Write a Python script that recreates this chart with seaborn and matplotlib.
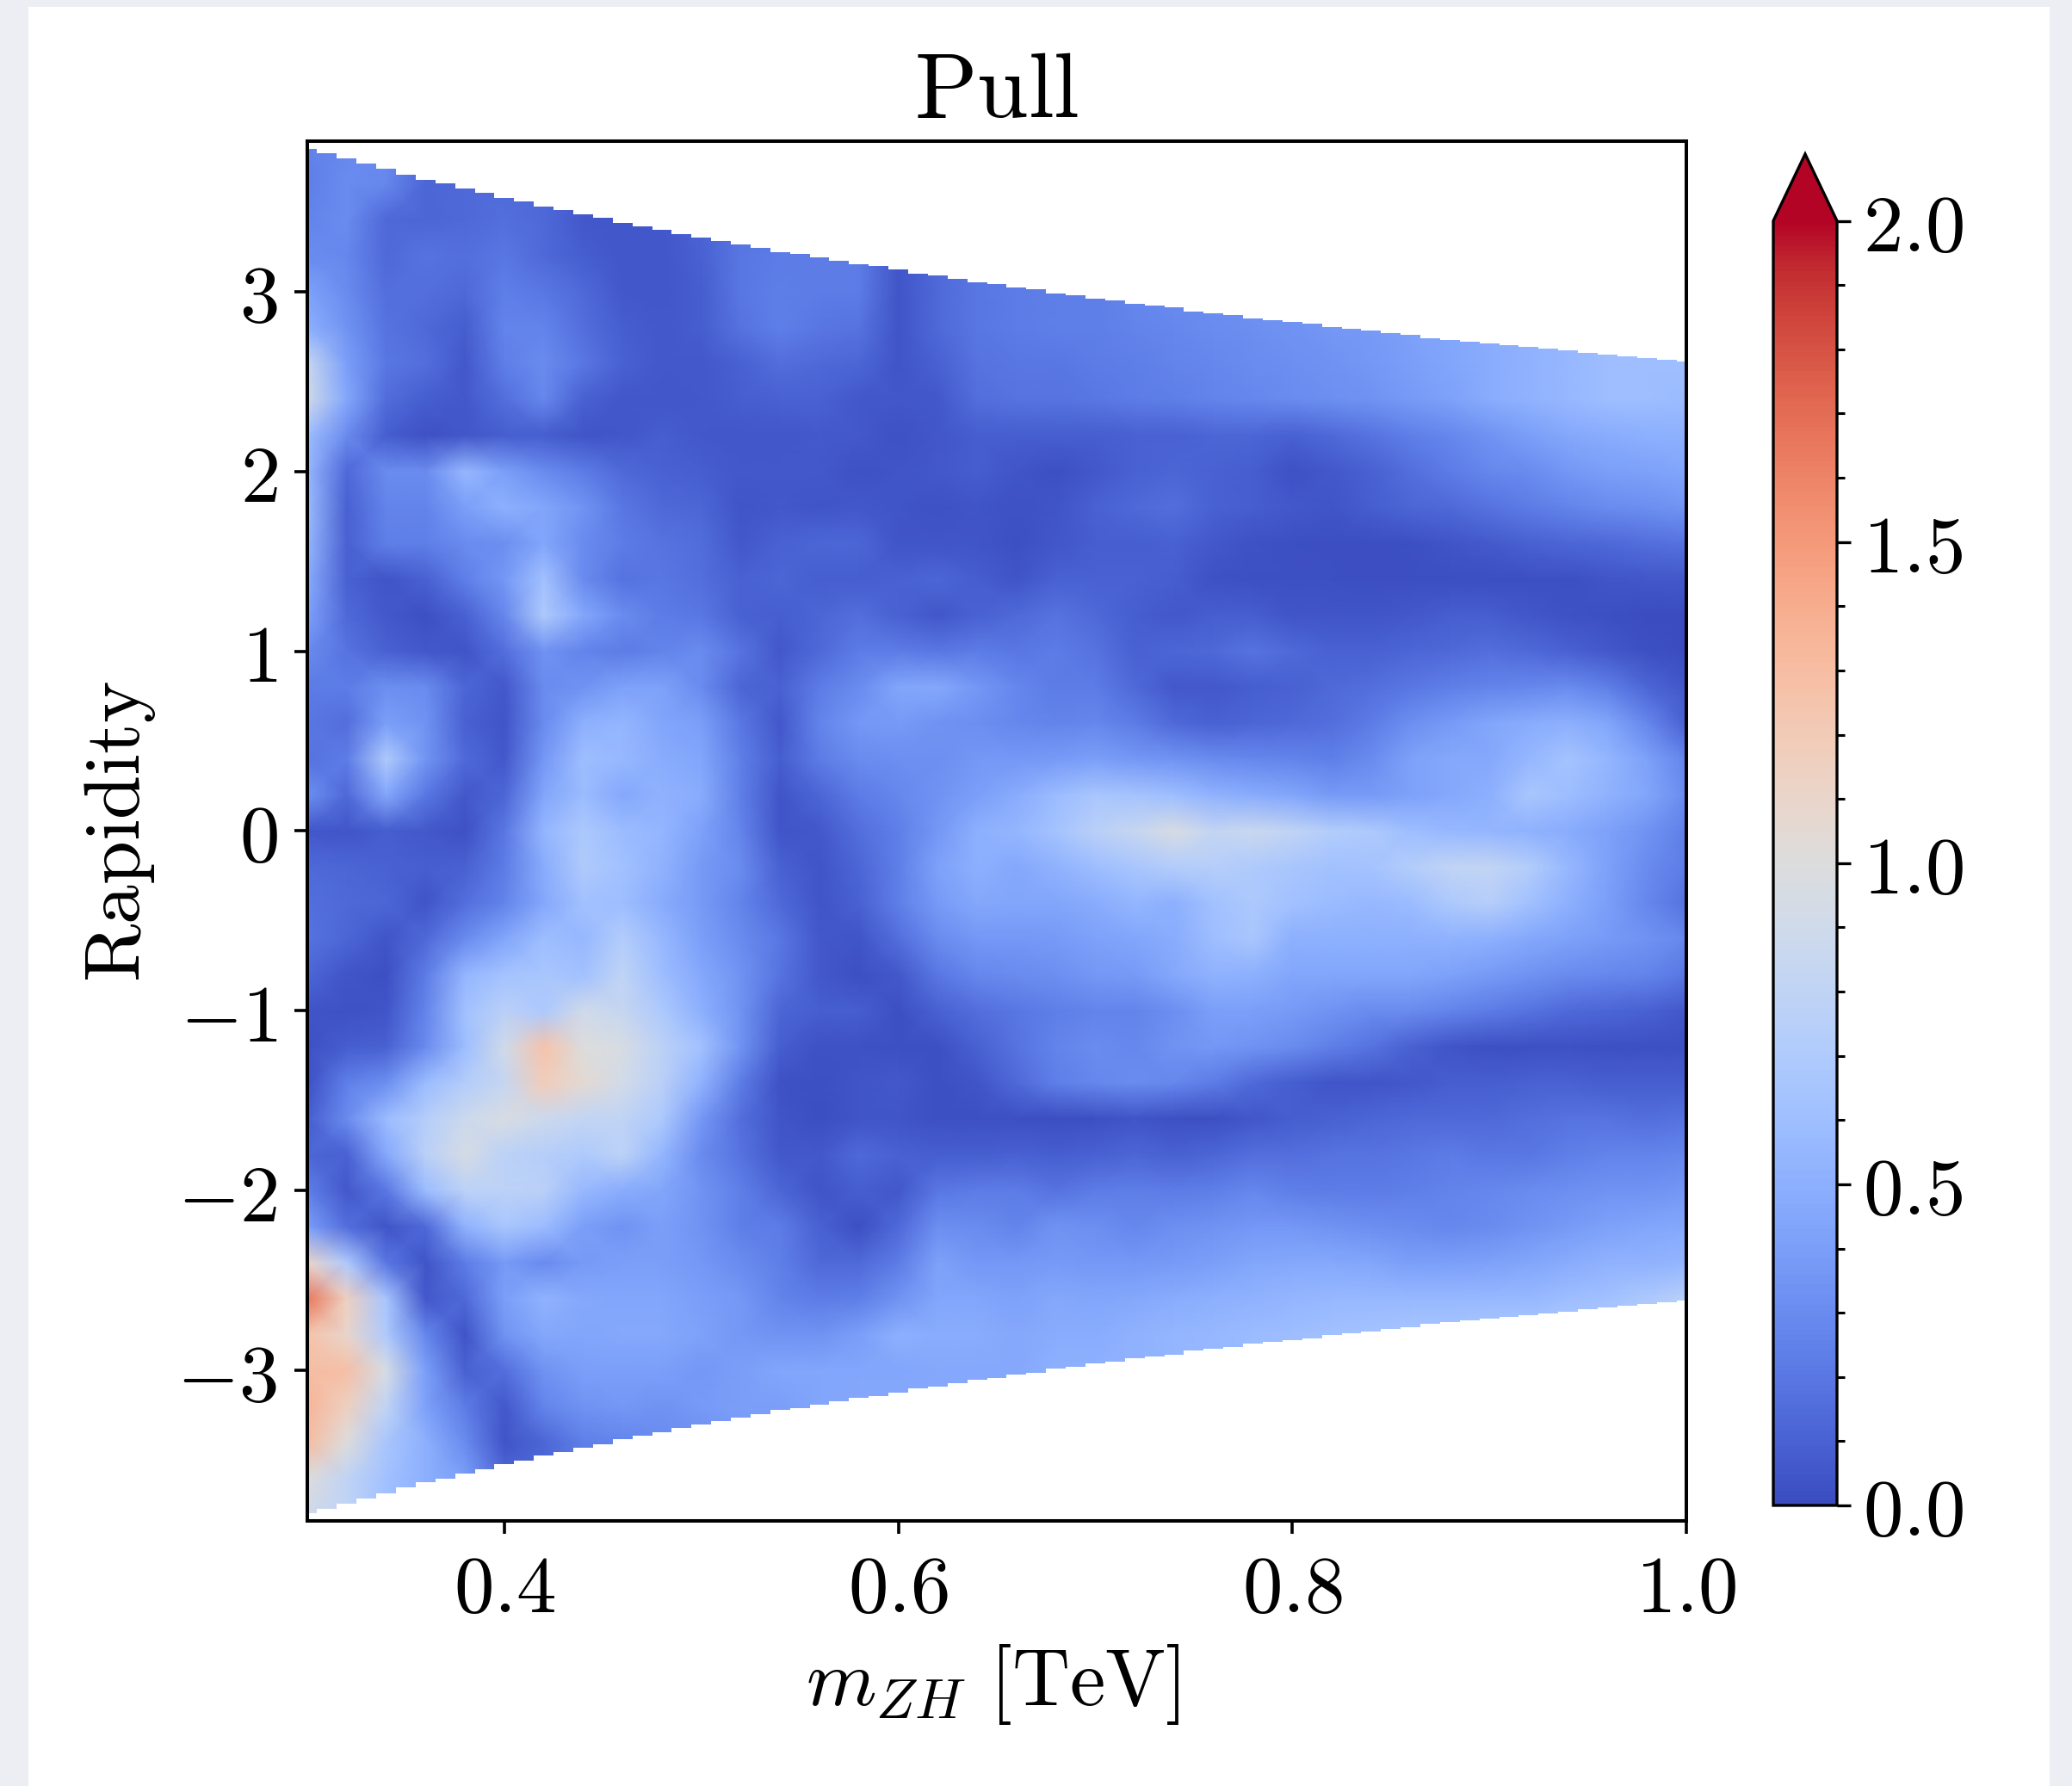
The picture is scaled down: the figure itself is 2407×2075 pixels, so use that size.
import numpy as np
import matplotlib
matplotlib.use("Agg")
import matplotlib.pyplot as plt
import seaborn as sns
from matplotlib.patches import Polygon, Rectangle
from matplotlib.ticker import MultipleLocator

# bin centres of the coarse grid
mass_bins = [0.30, 0.32, 0.34, 0.36, 0.38, 0.40, 0.42, 0.44, 0.46, 0.48, 0.50, 0.52,
             0.54, 0.56, 0.58, 0.60, 0.62, 0.64, 0.66, 0.68, 0.70, 0.72, 0.74, 0.76,
             0.78, 0.80, 0.82, 0.84, 0.86, 0.88, 0.90, 0.92, 0.94, 0.96, 0.98, 1.00]
rapidity_bins = [3.8, 3.6, 3.4, 3.2, 3.0, 2.8, 2.6, 2.4, 2.2, 2.0, 1.8, 1.6, 1.4, 1.2, 1.0,
                 0.8, 0.6, 0.4, 0.2, 0.0, -0.2, -0.4, -0.6, -0.8, -1.0, -1.2, -1.4, -1.6,
                 -1.8, -2.0, -2.2, -2.4, -2.6, -2.8, -3.0, -3.2, -3.4, -3.6, -3.8]

# pull x 100, one row per rapidity bin
pull_percent = [
    [25, 28, 30, 14, 14, 14, 12, 10, 10, 10, 10, 14, 20, 20, 20, 10, 10, 22, 25, 25, 28, 30, 30, 32, 35, 38, 40, 45, 48, 50, 52, 54, 55, 58, 58, 58],
    [24, 30, 28, 12, 14, 14, 12, 8, 8, 8, 10, 16, 20, 20, 20, 8, 8, 22, 25, 25, 28, 30, 32, 34, 38, 40, 42, 46, 48, 50, 52, 54, 55, 58, 58, 58],
    [26, 30, 14, 12, 14, 16, 14, 6, 5, 6, 12, 18, 22, 22, 20, 6, 6, 20, 24, 26, 28, 30, 32, 34, 36, 38, 40, 44, 46, 50, 52, 54, 56, 58, 58, 58],
    [30, 28, 14, 18, 16, 20, 14, 8, 5, 5, 10, 20, 22, 22, 22, 5, 14, 20, 22, 24, 26, 30, 32, 34, 36, 38, 40, 44, 46, 50, 52, 54, 56, 58, 58, 58],
    [42, 30, 16, 16, 14, 24, 20, 14, 6, 5, 8, 20, 24, 22, 22, 4, 14, 20, 22, 24, 24, 28, 30, 32, 34, 36, 38, 42, 44, 48, 50, 54, 56, 56, 56, 56],
    [50, 34, 18, 14, 8, 26, 26, 16, 8, 6, 8, 18, 24, 20, 18, 4, 14, 20, 22, 24, 24, 26, 28, 30, 32, 34, 36, 38, 42, 44, 48, 52, 56, 58, 60, 60],
    [85, 40, 20, 16, 6, 24, 30, 20, 10, 6, 6, 10, 16, 14, 12, 4, 10, 18, 20, 20, 22, 24, 26, 28, 30, 32, 34, 36, 40, 44, 48, 52, 56, 60, 60, 60],
    [90, 45, 15, 8, 6, 16, 28, 10, 5, 5, 6, 8, 10, 10, 6, 5, 6, 16, 18, 18, 20, 22, 24, 26, 28, 30, 32, 34, 38, 42, 48, 52, 56, 60, 60, 58],
    [60, 30, 8, 3, 5, 8, 8, 4, 5, 8, 6, 5, 5, 7, 6, 3, 5, 8, 8, 8, 8, 10, 10, 12, 12, 10, 14, 18, 24, 28, 34, 40, 46, 48, 50, 50],
    [55, 14, 30, 30, 55, 40, 30, 22, 14, 10, 8, 6, 6, 6, 3, 4, 6, 8, 4, 2, 6, 10, 12, 10, 8, 3, 6, 10, 16, 22, 28, 30, 36, 40, 42, 44],
    [58, 10, 26, 26, 40, 50, 44, 34, 20, 14, 12, 4, 6, 4, 6, 4, 3, 4, 3, 4, 10, 14, 16, 10, 8, 6, 4, 8, 12, 14, 18, 22, 26, 30, 32, 35],
    [55, 10, 24, 24, 30, 32, 44, 30, 22, 18, 15, 6, 10, 12, 12, 4, 4, 4, 2, 5, 8, 8, 10, 6, 3, 2, 1, 1, 2, 4, 7, 10, 12, 14, 16, 18],
    [48, 10, 4, 10, 24, 36, 62, 30, 18, 20, 16, 10, 12, 8, 8, 10, 12, 8, 4, 10, 10, 10, 8, 3, 2, 2, 2, 1, 1, 1, 1, 2, 2, 4, 5, 6],
    [42, 14, 6, 2, 10, 28, 70, 45, 30, 22, 20, 10, 8, 12, 16, 10, 5, 10, 14, 18, 14, 8, 6, 8, 8, 4, 4, 4, 6, 8, 8, 5, 3, 2, 0, 0],
    [30, 18, 10, 6, 4, 16, 34, 26, 22, 26, 30, 18, 6, 14, 22, 22, 20, 22, 20, 22, 18, 10, 12, 14, 18, 14, 10, 10, 12, 14, 16, 14, 10, 6, 2, 0],
    [22, 22, 32, 30, 12, 6, 30, 34, 42, 42, 30, 12, 10, 22, 30, 44, 46, 36, 28, 22, 22, 14, 6, 6, 8, 10, 14, 16, 20, 24, 26, 28, 30, 24, 12, 5],
    [20, 16, 40, 34, 10, 4, 30, 50, 54, 44, 40, 20, 6, 26, 36, 38, 34, 32, 28, 26, 28, 22, 14, 10, 12, 14, 16, 22, 32, 38, 44, 48, 50, 44, 28, 10],
    [18, 22, 70, 35, 14, 6, 36, 60, 56, 48, 44, 24, 8, 22, 30, 32, 32, 36, 36, 38, 40, 36, 34, 30, 28, 26, 24, 30, 42, 46, 46, 55, 64, 54, 42, 26],
    [32, 14, 45, 20, 6, 12, 44, 58, 46, 52, 48, 24, 4, 12, 22, 28, 34, 40, 48, 58, 66, 64, 60, 52, 48, 44, 38, 38, 42, 46, 50, 66, 60, 52, 44, 30],
    [6, 4, 8, 6, 3, 20, 54, 68, 58, 54, 42, 26, 4, 6, 16, 24, 36, 50, 54, 64, 76, 84, 96, 82, 86, 80, 72, 68, 60, 56, 54, 52, 48, 42, 34, 24],
    [14, 12, 10, 8, 10, 22, 48, 70, 62, 52, 38, 30, 10, 4, 12, 24, 42, 50, 46, 52, 60, 66, 72, 74, 70, 66, 62, 64, 72, 80, 82, 72, 56, 42, 30, 22],
    [16, 14, 12, 4, 16, 26, 46, 62, 60, 48, 38, 26, 14, 4, 10, 24, 38, 46, 44, 44, 48, 54, 50, 62, 68, 62, 58, 56, 58, 68, 74, 62, 50, 40, 28, 18],
    [18, 12, 4, 14, 30, 44, 60, 56, 72, 56, 40, 30, 20, 6, 4, 16, 30, 36, 36, 38, 42, 44, 48, 60, 66, 50, 50, 50, 50, 52, 50, 46, 42, 38, 34, 28],
    [12, 4, 2, 22, 54, 64, 66, 62, 80, 60, 46, 34, 18, 6, 2, 6, 20, 28, 30, 32, 36, 38, 46, 52, 50, 44, 44, 44, 44, 42, 38, 34, 30, 28, 26, 20],
    [4, 3, 4, 26, 62, 76, 68, 90, 84, 68, 50, 34, 12, 8, 8, 2, 10, 16, 20, 24, 26, 26, 32, 40, 40, 38, 34, 30, 30, 26, 22, 18, 14, 12, 10, 6],
    [3, 8, 10, 30, 60, 90, 125, 100, 96, 78, 62, 34, 8, 3, 3, 2, 2, 10, 18, 26, 30, 28, 34, 36, 34, 30, 24, 18, 10, 4, 2, 2, 3, 2, 2, 2],
    [3, 24, 32, 58, 72, 84, 118, 105, 92, 76, 52, 22, 3, 2, 4, 6, 2, 4, 14, 24, 28, 30, 28, 22, 14, 8, 4, 4, 6, 8, 8, 10, 10, 8, 8, 8],
    [8, 30, 58, 74, 88, 96, 88, 82, 80, 68, 36, 16, 4, 1, 4, 4, 2, 2, 2, 1, 2, 4, 2, 2, 5, 8, 10, 12, 14, 14, 14, 16, 18, 18, 16, 18],
    [12, 10, 46, 76, 94, 78, 74, 70, 78, 54, 30, 18, 6, 6, 14, 10, 8, 8, 10, 8, 10, 12, 10, 12, 16, 16, 18, 18, 20, 22, 20, 20, 24, 26, 26, 28],
    [24, 6, 20, 58, 78, 78, 76, 56, 48, 44, 34, 24, 12, 4, 8, 6, 20, 22, 22, 18, 22, 24, 22, 24, 28, 24, 22, 22, 24, 26, 28, 30, 32, 34, 34, 36],
    [40, 16, 4, 14, 52, 66, 58, 40, 34, 40, 34, 24, 22, 10, 2, 14, 32, 30, 26, 34, 32, 28, 32, 34, 36, 36, 34, 32, 30, 28, 30, 34, 38, 42, 44, 46],
    [110, 70, 20, 4, 22, 38, 30, 38, 40, 40, 36, 30, 24, 14, 14, 22, 42, 36, 36, 38, 36, 36, 38, 40, 44, 46, 46, 44, 40, 40, 42, 44, 48, 52, 52, 54],
    [165, 115, 65, 6, 14, 40, 52, 46, 44, 44, 40, 36, 26, 22, 24, 34, 44, 44, 42, 46, 44, 46, 48, 50, 52, 54, 56, 56, 56, 56, 56, 56, 60, 62, 68, 75],
    [125, 110, 70, 28, 4, 34, 46, 44, 46, 46, 42, 36, 34, 34, 40, 50, 48, 48, 46, 48, 48, 52, 54, 56, 58, 60, 62, 64, 66, 66, 68, 70, 70, 72, 74, 75],
    [130, 128, 95, 40, 10, 16, 34, 40, 40, 40, 36, 40, 44, 44, 44, 44, 46, 46, 46, 50, 50, 52, 54, 56, 60, 60, 62, 64, 66, 66, 68, 70, 70, 72, 74, 75],
    [135, 115, 80, 42, 22, 6, 26, 34, 36, 34, 38, 40, 40, 44, 46, 46, 46, 46, 46, 50, 50, 52, 54, 56, 60, 60, 62, 64, 66, 66, 68, 70, 70, 72, 74, 75],
    [130, 100, 66, 50, 30, 4, 12, 24, 26, 30, 32, 36, 40, 44, 46, 46, 46, 46, 46, 50, 50, 52, 54, 56, 60, 60, 62, 64, 66, 66, 68, 70, 70, 72, 74, 75],
    [100, 80, 62, 50, 40, 14, 12, 24, 26, 30, 32, 36, 40, 44, 46, 46, 46, 46, 46, 50, 50, 52, 54, 56, 60, 60, 62, 64, 66, 66, 68, 70, 70, 72, 74, 75],
    [90, 80, 62, 50, 40, 14, 12, 24, 26, 30, 32, 36, 40, 44, 46, 46, 46, 46, 46, 50, 50, 52, 54, 56, 60, 60, 62, 64, 66, 66, 68, 70, 70, 72, 74, 75],
]

# upper rapidity edge of the filled area, one per 0.01 TeV (lower edge is the mirror)
edge_mass = [0.30, 0.31, 0.32, 0.33, 0.34, 0.35, 0.36, 0.37, 0.38, 0.39, 0.40, 0.41, 0.42, 0.43, 0.44, 0.45,
             0.46, 0.47, 0.48, 0.49, 0.50, 0.51, 0.52, 0.53, 0.54, 0.55, 0.56, 0.57, 0.58, 0.59, 0.60, 0.61,
             0.62, 0.63, 0.64, 0.65, 0.66, 0.67, 0.68, 0.69, 0.70, 0.71, 0.72, 0.73, 0.74, 0.75, 0.76, 0.77,
             0.78, 0.79, 0.80, 0.81, 0.82, 0.83, 0.84, 0.85, 0.86, 0.87, 0.88, 0.89, 0.90, 0.91, 0.92, 0.93,
             0.94, 0.95, 0.96, 0.97, 0.98, 0.99, 1.00]
edge_rapidity = [3.79, 3.77, 3.74, 3.71, 3.68, 3.65, 3.62, 3.60, 3.57, 3.55, 3.52, 3.50, 3.47, 3.45, 3.43, 3.41,
                 3.38, 3.36, 3.34, 3.32, 3.30, 3.28, 3.26, 3.24, 3.22, 3.21, 3.19, 3.17, 3.15, 3.14, 3.12, 3.10,
                 3.09, 3.07, 3.05, 3.04, 3.02, 3.01, 2.99, 2.98, 2.96, 2.95, 2.93, 2.92, 2.91, 2.89, 2.88, 2.87,
                 2.85, 2.84, 2.83, 2.82, 2.80, 2.79, 2.78, 2.77, 2.76, 2.74, 2.73, 2.72, 2.71, 2.70, 2.69, 2.68,
                 2.67, 2.66, 2.65, 2.64, 2.63, 2.62, 2.61]

x_ticks = [0.4, 0.6, 0.8, 1.0]
y_ticks = [-3, -2, -1, 0, 1, 2, 3]
cbar_ticks = [0.0, 0.5, 1.0, 1.5, 2.0]

W, H = 2407, 2075
sns.set_style("white")
plt.rcParams["mathtext.fontset"] = "cm"
plt.rcParams["text.color"] = "black"
plt.rcParams["axes.labelcolor"] = "black"


def to_col(m):
    return np.interp(m, mass_bins, np.arange(len(mass_bins)))


def to_row(y):
    # rapidity runs downwards in the matrix, and the axis goes a little past the last bin
    return (rapidity_bins[0] - np.asarray(y)) / 0.2


fig = plt.figure(figsize=(W / 100, H / 100), dpi=100, facecolor="#eceef3")
fig.patches.append(Rectangle((33 / W, 0), (2381 - 33) / W, 1 - 8 / H, transform=fig.transFigure,
                             facecolor="white", edgecolor="none", zorder=-5))
ax = fig.add_axes([357 / W, 1 - 1767 / H, (1959 - 357) / W, (1767 - 164) / H])
# the colorbar shrinks itself to fit the arrow, so the box includes the tip
cax = fig.add_axes([2060 / W, 1 - 1749 / H, (2134 - 2060) / W, (1749 - 179) / H])

pull = np.array(pull_percent) / 100
sns.heatmap(pull, vmin=0, vmax=2, cmap="coolwarm", ax=ax, cbar_ax=cax, shading="gouraud",
            xticklabels=False, yticklabels=False,
            cbar_kws={"extend": "max", "extendfrac": 0.052, "ticks": cbar_ticks})

# staircase outline of the filled area
em = np.array(edge_mass)
er = np.array(edge_rapidity)
left = np.clip(em - 0.005, 0.30, 1.00)
right = np.clip(em + 0.005, 0.30, 1.00)
xs = np.column_stack([left, right]).ravel()
ys = np.repeat(er, 2)
verts = np.concatenate([np.column_stack([to_col(xs), to_row(ys)]),
                        np.column_stack([to_col(xs[::-1]), to_row(-ys[::-1])])])
mesh = ax.collections[0]
mesh.set_clip_path(Polygon(verts, closed=True, transform=ax.transData))

ax.set_xlim(0, len(mass_bins) - 1)
ax.set_ylim(to_row(-3.835), to_row(3.835))
ax.set_facecolor("white")
for s in ax.spines.values():
    s.set_visible(True)
    s.set_color("black")
    s.set_linewidth(2.9)

ax.set_xticks(to_col(x_ticks))
ax.set_xticklabels(["$%.1f$" % t for t in x_ticks])
ax.set_yticks(to_row(y_ticks))
ax.set_yticklabels(["$%d$" % t for t in y_ticks])
ax.tick_params(axis="both", which="major", length=11, width=2.6, labelsize=67, pad=14,
               bottom=True, left=True, colors="black")

ax.set_title(r"$\mathrm{Pull}$", fontsize=77, pad=20, color="black")
ax.set_xlabel(r"$m_{ZH}\ [\mathrm{TeV}]$", fontsize=67, labelpad=12, x=0.497)
ax.set_ylabel(r"$\mathrm{Rapidity}$", fontsize=66, labelpad=16)

cbar = ax.collections[0].colorbar
cbar.outline.set_visible(True)
cbar.outline.set_edgecolor("black")
cbar.outline.set_linewidth(2.4)
cbar.ax.yaxis.set_minor_locator(MultipleLocator(0.1))
cbar.set_ticklabels(["$%.1f$" % t for t in cbar_ticks])
cbar.ax.tick_params(which="major", right=True, length=11.5, width=2.4, labelsize=67, pad=10, colors="black")
cbar.ax.tick_params(which="minor", right=True, length=6.5, width=2.2, colors="black")

fig.savefig("out.png", dpi=100, facecolor=fig.get_facecolor())
